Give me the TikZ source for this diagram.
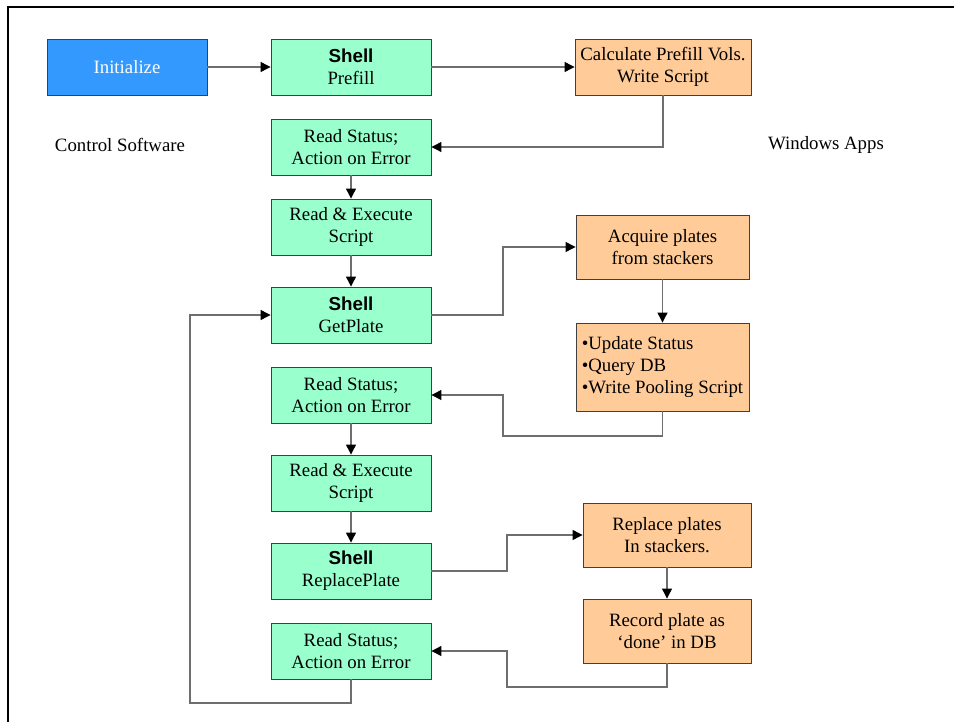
\documentclass[tikz,border=0pt]{standalone}
\usepackage{fontspec}
\setmainfont{Liberation Serif}
\newfontfamily\shellfont{Liberation Sans}
\usetikzlibrary{arrows.meta}
\definecolor{boxgreen}{HTML}{99FFCC}
\definecolor{boxorange}{HTML}{FFCC99}
\definecolor{boxblue}{HTML}{3399FF}
\definecolor{edgegray}{HTML}{404040}
\definecolor{linegray}{HTML}{6E6E6E}
\newcommand{\shellhead}{{\shellfont\bfseries Shell}}
\begin{document}
\begin{tikzpicture}[x=1pt,y=-1pt,
  every node/.style={font=\fontsize{18.8}{22}\selectfont},
  box/.style={draw=edgegray, line width=0.9pt, inner sep=2pt, align=center, minimum width=160pt, minimum height=56pt},
  gbox/.style={box, fill=boxgreen},
  obox/.style={box, fill=boxorange},
  conn/.style={draw=linegray, line width=1.2pt, -{Triangle[length=10pt,width=10pt,color=black]}},
  plain/.style={draw=linegray, line width=1.2pt}]
\useasboundingbox (0,0) rectangle (954,722);
\draw[line width=2.2pt, black] (8,722) -- (8,7) -- (954,7);

\node[box, fill=boxblue, text=white] (init) at (127,67) {Initialize};
\node[gbox] (prefill) at (351,67) {\shellhead\\Prefill};
\node[obox, minimum width=176pt] (calc) at (663,67) {Calculate Prefill Vols.\\Write Script};
\node[gbox] (rs1) at (351,147) {Read Status;\\Action on Error};
\node[gbox] (re1) at (351,227) {Read \& Execute\\Script};
\node[gbox] (gp) at (351,315) {\shellhead\\GetPlate};
\node[gbox] (rs2) at (351,395) {Read Status;\\Action on Error};
\node[gbox] (re2) at (351,483) {Read \& Execute\\Script};
\node[gbox] (rp) at (351,571) {\shellhead\\ReplacePlate};
\node[gbox] (rs3) at (351,651) {Read Status;\\Action on Error};

\node[obox, minimum width=173pt, minimum height=64pt] (acq) at (662.5,247) {Acquire plates\\from stackers};
\node[obox, minimum width=173pt, minimum height=88pt, align=left] (upd) at (662.5,367) {•Update Status\\•Query DB\\•Write Pooling Script};
\node[obox, minimum width=168pt, minimum height=64pt] (repl) at (667,535) {Replace plates\\In stackers.};
\node[obox, minimum width=168pt, minimum height=64pt] (rec) at (667,631) {Record plate as\\‘done’ in DB};

\node (cs) at (120,145) {Control Software};
\node (wa) at (826,145) {Windows Apps};

\coordinate (j1) at (503,315);
\coordinate (j2) at (503,436);
\coordinate (j3) at (507,571);
\coordinate (j4) at (507,687);
\coordinate (j5) at (190,703);

\draw[conn] (init) -- (prefill);
\draw[conn] (prefill) -- (calc);
\draw[conn] (calc.south) |- (rs1.east);
\draw[conn] (rs1) -- (re1);
\draw[conn] (re1) -- (gp);
\draw[conn] (gp.east) -- (j1) |- (acq.west);
\draw[conn] (acq) -- (upd);
\draw[conn] (upd.south) |- (j2) |- (rs2.east);
\draw[conn] (rs2) -- (re2);
\draw[conn] (re2) -- (rp);
\draw[conn] (rp.east) -- (j3) |- (repl.west);
\draw[conn] (repl) -- (rec);
\draw[conn] (rec.south) |- (j4) |- (rs3.east);
\draw[conn] (rs3.south) |- (j5) |- (gp.west);
\end{tikzpicture}
\end{document}
